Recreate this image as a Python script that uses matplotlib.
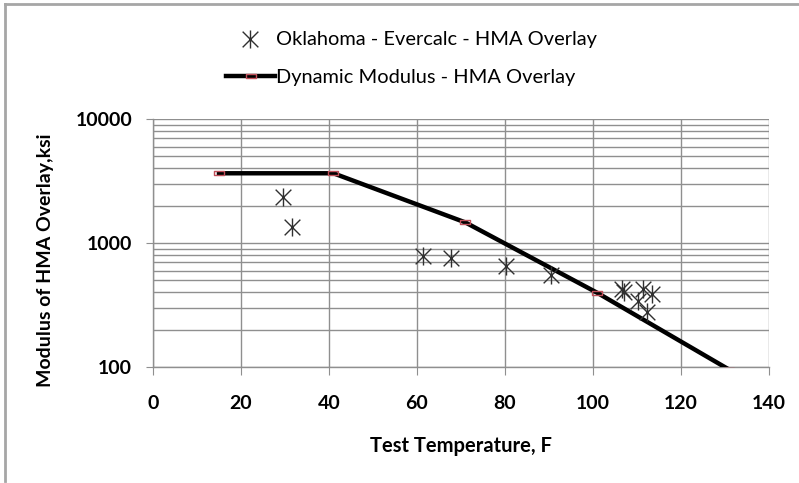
import matplotlib
matplotlib.use("Agg")
import matplotlib.pyplot as plt
from matplotlib.path import Path
from matplotlib.ticker import LogLocator, NullFormatter, FixedLocator
from matplotlib.lines import Line2D

# ---- data ----
field_temp = [29.6, 31.7, 61.4, 67.7, 80.2, 90.4, 106.5, 107.0, 111.4, 113.3, 110.3, 112.2]
field_mod = [2355, 1348, 780, 757, 652, 547, 425, 405, 427, 389, 339, 276]

dm_temp = [15, 41, 71, 101, 131]
dm_mod = [3650, 3650, 1465, 396, 95]

x_ticks = [0, 20, 40, 60, 80, 100, 120, 140]
y_ticks = [100, 1000, 10000]

label_field = "Oklahoma - Evercalc - HMA Overlay"
label_dm = "Dynamic Modulus - HMA Overlay"
xlabel = "Test Temperature, F"
ylabel = "Modulus of HMA Overlay,ksi"

plt.rcParams['font.family'] = ['Lato', 'DejaVu Sans']

W, H = 799, 483
fig = plt.figure(figsize=(W / 100, H / 100), dpi=100)

# outer border (top and left visible)
fig.add_artist(Line2D([5 / W, 5 / W], [2 / H, 1 - 4 / H], transform=fig.transFigure,
                      color='#a6a6a6', lw=2))
fig.add_artist(Line2D([5 / W, 1], [1 - 4 / H, 1 - 4 / H], transform=fig.transFigure,
                      color='#a6a6a6', lw=2))

ax = fig.add_axes([153 / W, 1 - 367 / H, (769 - 153) / W, (367 - 119) / H])
ax.set_yscale('log')
ax.set_xlim(0, 140)
ax.set_ylim(100, 10000)

grid_c = '#8f8f8f'
ax.xaxis.set_major_locator(FixedLocator(x_ticks))
ax.yaxis.set_major_locator(FixedLocator(y_ticks))
ax.yaxis.set_minor_locator(LogLocator(base=10, subs=range(2, 10)))
ax.yaxis.set_minor_formatter(NullFormatter())
ax.set_yticklabels([str(v) for v in y_ticks])
ax.set_xticklabels([str(v) for v in x_ticks])
ax.grid(True, which='major', axis='both', color=grid_c, lw=1)
ax.grid(True, which='minor', axis='y', color=grid_c, lw=1)
ax.set_axisbelow(True)

for s in ['top', 'right']:
    ax.spines[s].set_visible(False)
for s in ['left', 'bottom']:
    ax.spines[s].set_color(grid_c)
    ax.spines[s].set_linewidth(1)

ax.tick_params(axis='x', which='major', length=6, color=grid_c, direction='out',
               pad=14, labelsize=14)
ax.tick_params(axis='y', which='major', length=5, color=grid_c, direction='out',
               pad=10, labelsize=14)
ax.tick_params(axis='y', which='minor', length=0)
for lab in ax.get_xticklabels() + ax.get_yticklabels():
    lab.set_fontweight('bold')

# star marker (X with vertical bar)
star = Path([(-1, -1), (1, 1), (-1, 1), (1, -1), (0, -1.15), (0, 1.15)],
            [Path.MOVETO, Path.LINETO, Path.MOVETO, Path.LINETO, Path.MOVETO, Path.LINETO])
rect = Path([(-1, -0.45), (1, -0.45), (1, 0.45), (-1, 0.45), (-1, -0.45)],
            [Path.MOVETO, Path.LINETO, Path.LINETO, Path.LINETO, Path.CLOSEPOLY])

dm_line, = ax.plot(dm_temp, dm_mod, color='black', lw=3.2, marker=rect, markersize=7,
                   markerfacecolor='none', markeredgecolor='#c0505a', markeredgewidth=1,
                   label=label_dm, zorder=3)
field_pts, = ax.plot(field_temp, field_mod, linestyle='none', marker=star, markersize=13,
                     markerfacecolor='none', markeredgecolor='#303030', markeredgewidth=1,
                     label=label_field, zorder=4)

ax.set_xlabel(xlabel, fontsize=14.5, fontweight='bold')
ax.set_ylabel(ylabel, fontsize=14, fontweight='bold')
ax.xaxis.set_label_coords((461 - 153) / 616, (367 - 446) / 248)
ax.xaxis.label.set_va('center')
ax.yaxis.set_label_coords((45 - 153) / 616, (367 - 260) / 248)
ax.yaxis.label.set_va('center')

leg_kw = dict(frameon=False, fontsize=14.4, handlelength=2.45, handletextpad=0.05,
              borderpad=0, numpoints=1, loc='center')
leg1 = fig.legend(handles=[field_pts], labels=[label_field],
                  bbox_to_anchor=(411 / W, 1 - 40 / H), **leg_kw)
leg2 = fig.legend(handles=[dm_line], labels=[label_dm],
                  bbox_to_anchor=(401 / W, 1 - 77 / H), **leg_kw)

fig.savefig("out.png", dpi=100)
